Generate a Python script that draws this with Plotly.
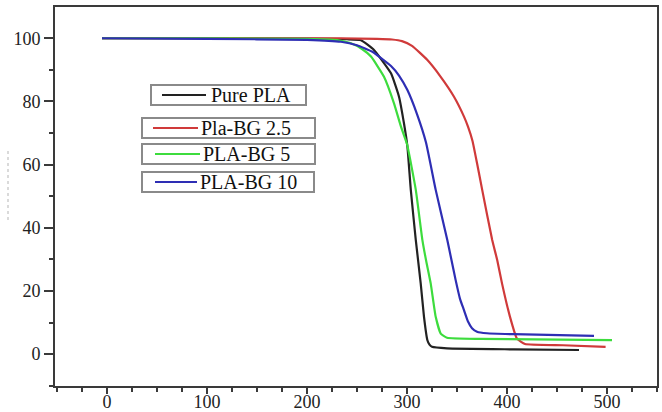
import plotly.graph_objects as go

# Temperature (x) and residual mass % (y)
temp_pure = [-5, 100, 200, 240, 254, 267, 284, 292, 297, 300.4, 303.8, 308.8,
             313.7, 317, 320.4, 322.5, 325, 340, 407, 472]
mass_pure = [100, 100, 99.9, 99.7, 99.4, 96.3, 88.9, 81.5, 73, 65.7, 52, 36.1,
             22.4, 11.8, 4.4, 3.0, 2.3, 1.8, 1.5, 1.3]

temp_bg25 = [-5, 100, 234, 270, 285, 295, 305, 320.4, 333.7, 347, 357, 361,
             365.5, 370, 375.2, 385.2, 390.2, 395, 403, 410, 418, 456, 498.6]
mass_bg25 = [100, 100, 100, 99.8, 99.6, 99.1, 97.6, 93.1, 87.8, 81.5, 75.2, 72,
             67.5, 60.5, 52, 36.1, 29.8, 22.4, 11.8, 4.9, 3.2, 2.8, 2.3]

temp_bg5 = [-5, 100, 200, 230, 244, 255, 264, 277, 287, 294, 300, 308.8,
            315.4, 319, 323.7, 328.7, 333.7, 340, 373.5, 505]
mass_bg5 = [100, 100, 99.8, 99.4, 98.4, 96.6, 94.2, 87.8, 79.4, 72, 66.5, 52,
            36.1, 29.8, 22.4, 11.8, 6.5, 5.2, 4.8, 4.4]

temp_bg10 = [-5, 100, 200, 234, 250, 265, 284, 292, 300.4, 310, 319, 328.7,
             340.3, 344, 348.6, 353, 357, 361, 365, 370, 380, 406.6, 487]
mass_bg10 = [100, 99.8, 99.5, 98.9, 97.8, 95.8, 91.2, 88.2, 83.6, 76, 67, 52,
             36.1, 30.5, 23.5, 17.5, 13.9, 10.3, 8.2, 7.1, 6.6, 6.3, 5.8]

series_names = ["Pure PLA", "Pla-BG 2.5", "PLA-BG 5", "PLA-BG 10"]
series_colors = ["#222222", "#d03a3a", "#3ddc3d", "#2e2eb4"]

x_ticks = [0, 100, 200, 300, 400, 500]
y_ticks = [0, 20, 40, 60, 80, 100]

# plot area in pixels (662x412 page)
W, H = 662, 412
L, R, T, B = 55, 657, 7, 386
SERIF = "Liberation Serif, Times New Roman, serif"


def px_x(px):
    return (px - L) / (R - L)


def px_y(py):
    return (B - py) / (B - T)


fig = go.Figure()
for xs, ys, name, color in zip(
    [temp_pure, temp_bg25, temp_bg5, temp_bg10],
    [mass_pure, mass_bg25, mass_bg5, mass_bg10],
    series_names,
    series_colors,
):
    fig.add_trace(
        go.Scatter(
            x=xs, y=ys, name=name, mode="lines",
            line=dict(color=color, width=2.2, shape="spline", smoothing=0.4),
            showlegend=False,
        )
    )

# separate boxed legend entries, as in the original figure
# (box left, box top, box right, box bottom, line start, line end, text left)
legend_boxes = [
    (151, 85, 306, 105, 162, 206, 209),
    (142, 118, 315, 138, 153, 198, 199),
    (142, 144, 315, 164, 155, 200, 201),
    (142, 172, 314, 192, 155, 197, 198),
]
for (x0, y0, x1, y1, l0, l1, tx), name, color in zip(
    legend_boxes, series_names, series_colors
):
    fig.add_shape(type="rect", xref="paper", yref="paper",
                  x0=px_x(x0), x1=px_x(x1), y0=px_y(y1), y1=px_y(y0),
                  line=dict(color="#8a8a8a", width=2), fillcolor="white")
    ym = (y0 + y1) / 2
    fig.add_shape(type="line", xref="paper", yref="paper",
                  x0=px_x(l0), x1=px_x(l1), y0=px_y(ym), y1=px_y(ym),
                  line=dict(color=color, width=2))
    fig.add_annotation(text=name, xref="paper", yref="paper",
                       x=px_x(tx), y=px_y(ym), xanchor="left", yanchor="middle",
                       showarrow=False, font=dict(family=SERIF, size=20, color="#111"))

# faint remnant of the y-axis title
fig.add_shape(type="line", xref="paper", yref="paper",
              x0=px_x(8), x1=px_x(8), y0=px_y(220), y1=px_y(150),
              line=dict(color="#b5b5b5", width=1, dash="dot"))

axis_common = dict(
    showgrid=False, zeroline=False, showline=True, mirror=True,
    linecolor="#3a3a3a", linewidth=2, ticks="outside", tickcolor="#3a3a3a",
    tickwidth=1.5, tickfont=dict(family=SERIF, size=18, color="#222"),
    automargin=False,
)

fig.update_xaxes(
    range=[-52, 550], tickvals=x_ticks, ticklen=6, ticklabelstandoff=-8,
    minor=dict(dtick=25, ticks="outside", ticklen=4, tickcolor="#3a3a3a"),
    **axis_common,
)
fig.update_yaxes(
    range=[-10.1, 109.9], tickvals=y_ticks, ticklen=9,
    minor=dict(dtick=10, ticks="outside", ticklen=4, tickcolor="#3a3a3a"),
    **axis_common,
)

fig.update_layout(
    width=W, height=H,
    margin=dict(l=L, r=W - R, t=T, b=H - B, pad=0),
    plot_bgcolor="white", paper_bgcolor="white",
    showlegend=False,
)

# the page's default 8px body margin would shift the whole figure
fig.write_html("out.html", config={"displayModeBar": False},
               post_script="document.body.style.margin='0';")
